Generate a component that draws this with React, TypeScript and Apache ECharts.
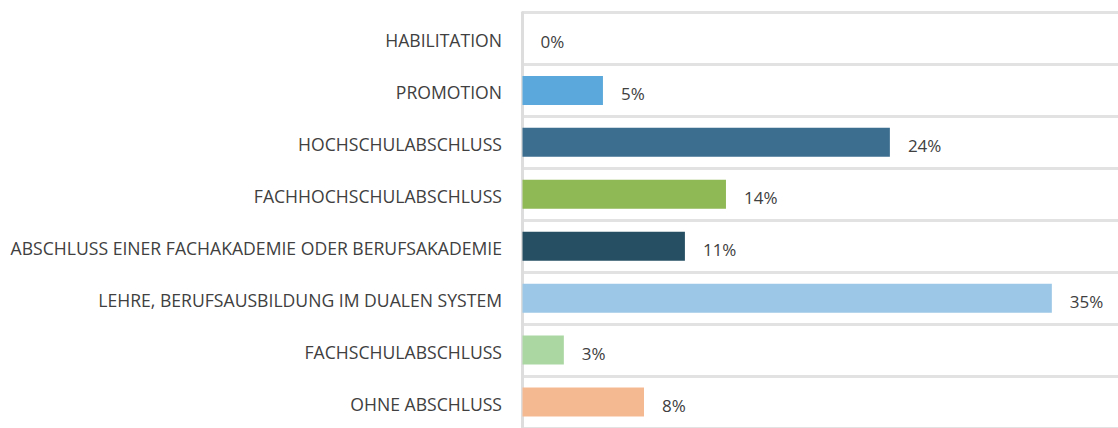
import React, { useEffect, useRef } from "react";
import * as echarts from "echarts";

const categories = [
  "HABILITATION",
  "PROMOTION",
  "HOCHSCHULABSCHLUSS",
  "FACHHOCHSCHULABSCHLUSS",
  "ABSCHLUSS EINER FACHAKADEMIE ODER BERUFSAKADEMIE",
  "LEHRE, BERUFSAUSBILDUNG IM DUALEN SYSTEM",
  "FACHSCHULABSCHLUSS",
  "OHNE ABSCHLUSS",
];
const values = [0, 5.35, 24.43, 13.53, 10.8, 35.2, 2.75, 8.08];
const colors = ["#5BA9DC", "#5BA9DC", "#3C6E8F", "#8FB955", "#264F63", "#9DC7E6", "#ABD7A3", "#F5B992"];

export default function App() {
  const ref = useRef<HTMLDivElement>(null);
  useEffect(() => {
    if (!ref.current) return;
    const chart = echarts.init(ref.current, undefined, { renderer: "svg" });
    chart.setOption({
      animation: false,
      grid: { left: 522.5, right: 0, top: 12.5, height: 419 },
      xAxis: {
        type: "value",
        min: 0,
        max: 39.6,
        axisLine: { show: false },
        axisLabel: { show: false },
        axisTick: { show: false },
        splitLine: { show: false },
      },
      yAxis: {
        type: "category",
        inverse: true,
        data: categories,
        offset: 1.5,
        axisTick: { show: false },
        axisLine: { show: true, lineStyle: { color: "#DDDDDD", width: 3 } },
        splitLine: { show: true, lineStyle: { color: "#E2E2E2", width: 3 } },
        axisLabel: {
          margin: 19,
          color: "#404040",
          fontFamily: "Open Sans",
          fontSize: 17.6,
          verticalAlign: "top",
          lineHeight: 3,
        },
      },
      series: [
        {
          type: "bar",
          data: values.map((v, i) => ({ value: v, itemStyle: { color: colors[i] } })),
          barWidth: 29,
          label: {
            show: true,
            position: "right",
            distance: 18,
            offset: [0, 3],
            color: "#404040",
            fontFamily: "Open Sans",
            fontSize: 17,
            formatter: (p: any) => Math.round(p.value) + "%",
          },
        },
      ],
    });
    return () => chart.dispose();
  }, []);
  return (
    <div
      ref={ref}
      style={{ position: "fixed", left: 0, top: 0, width: 1118, height: 428, background: "#fff" }}
    />
  );
}
